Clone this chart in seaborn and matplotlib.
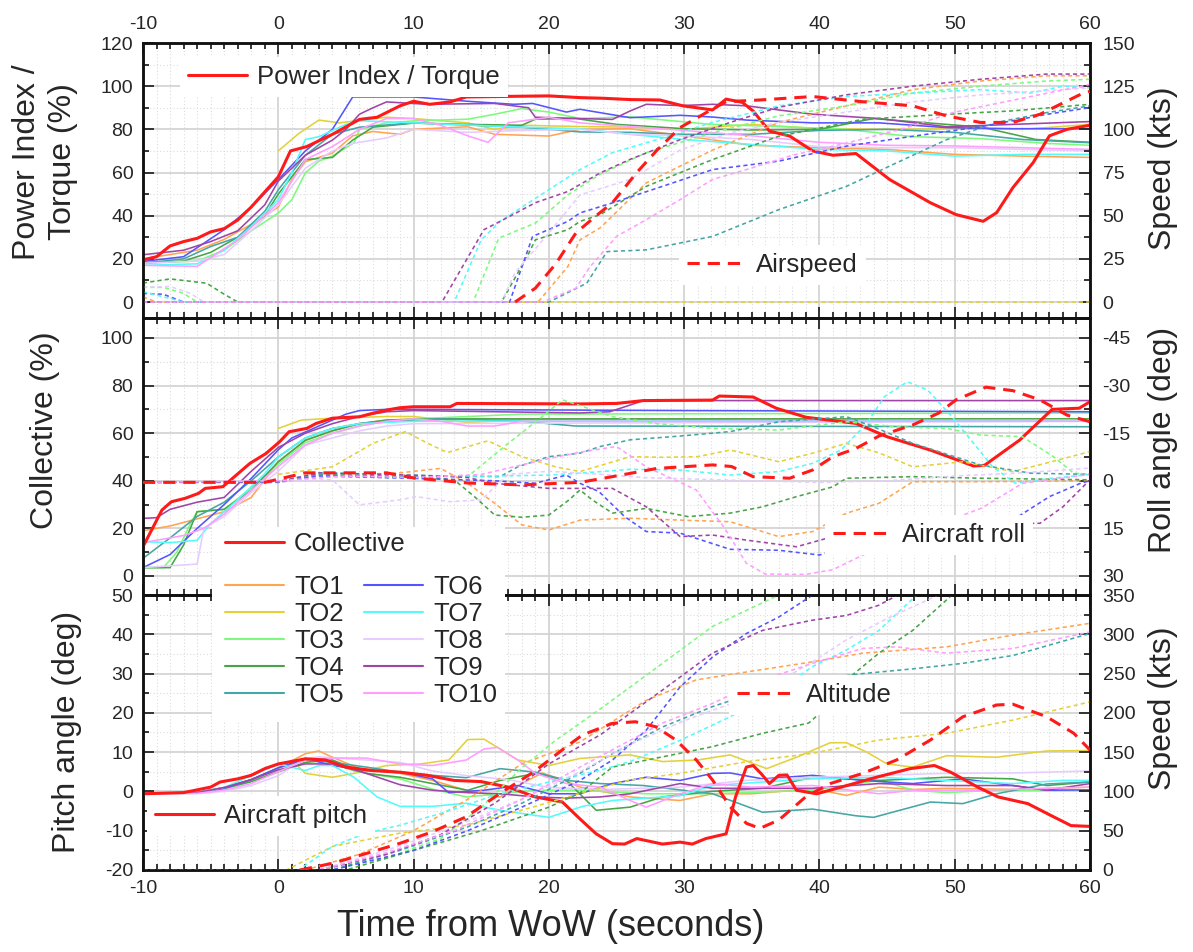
import numpy as np
import pandas as pd
import seaborn as sns
import matplotlib
matplotlib.use("Agg")
import matplotlib.pyplot as plt
from matplotlib.lines import Line2D
from matplotlib.patches import Rectangle
from matplotlib.ticker import MultipleLocator

# ---------------- DATA ----------------
TO_NAMES = ["TO1", "TO2", "TO3", "TO4", "TO5", "TO6", "TO7", "TO8", "TO9", "TO10"]
TO_COLORS = ["#FFA552", "#E3D13A", "#7DFA7D", "#47A547", "#45A6A6",
             "#5555FF", "#55FAFA", "#E6CCFF", "#A044A8", "#FF9EFF"]

# Panel 1: Power index / torque (%)
TQ_RED = [(-10,19.5),(-9,21),(-8,26),(-7,28),(-6,29.5),(-5,32.5),(-4,34),(-3,38),(-2,44),(-1,51),(0,58),
          (0.9,70),(2.1,72),(4,77.7),(6,84.6),(7.3,85.6),(9,90.9),(10,93),(11.2,91.6),(12.7,92.7),(13.9,95),
          (17.4,95.3),(20,95.5),(22.3,94.7),(24,94.4),(26,93.8),(28.2,93.6),(29.9,90.9),(32.1,89),(33.1,94),
          (34.3,92.5),(35.1,88.5),(36.3,79.2),(37.8,76.9),(39.5,70),(41,68),(42.7,68.8),(45.2,56.7),(48.2,46),
          (50.1,40.5),(52.1,37.4),(53.1,41.4),(54.3,53),(55.8,64.6),(57,77),(58.3,80),(60,81.9)]
TQ_TO1 = [(-10,20),(-8,22),(-6,24),(-4,29),(-2,36),(0,44),(1,56.7),(2,65),(4,69),(5.5,77),(7,79),(9,77.7),(10,80),
          (14,81.2),(16,77.7),(20,76.9),(22.3,80),(26,80.3),(30,77),(35,72.6),(40,71.5),(45,70.7),(50,68.4),(55,67.6),(60,67)]
TQ_TO2 = [(0,70),(1.5,78),(3,84.3),(4.5,83),(8,85.6),(10,85),(14,83),(16,80),(18,81.9),(22.3,81.3),(26,81),(30,80),
          (35,82.3),(40,80.3),(45,80),(50,80.3),(55,80),(60,82.3)]
TQ_TO3 = [(-10,18),(-6,19),(-4,24),(-2,33),(0,41.2),(1,47.4),(2,59.8),(3,65.3),(4,67.6),(5.6,73.8),(6,80),(8,83),(10,83.9),
          (14,84.7),(16,87),(18,89.6),(20,88),(22.3,85),(26,85.8),(32,82.3),(37,81.3),(42,80),(46.9,76.6),(51.9,75.7),(56.8,73.5),(60,72.6)]
TQ_TO4 = [(-10,18),(-7,19),(-5,23),(-3,30),(-1,40),(0,50),(2,66),(4,67),(5.5,75),(7,81),(10,82.9),(14,82.3),(18,81.9),
          (19,84.7),(22,85),(25,82.3),(30,80.3),(35,79.7),(40,80),(44,85),(48,83),(52,81),(56,75.3),(60,74)]
TQ_TO5 = [(-10,18),(-7,20),(-5,25.7),(-3,30),(-1,42),(0,52),(2,68),(4,77.7),(6,81),(8,82),(10,83),(14,82),(18,81),
          (22.3,78.8),(26,78.6),(30,77.7),(35,77.7),(40,79.5),(45,80),(50,78.6),(55,75.3),(60,73.8)]
TQ_TO6 = [(-10,18.8),(-7,21),(-4,33.5),(-2,44),(0,56.7),(2,70),(4,80),(5.5,95),(7.7,95),(10,95),(14,93),(17.4,91.6),
          (18.8,92),(21.3,88),(22.3,89.3),(26,85.4),(29.7,86.5),(32.1,85.7),(34.6,84.3),(39.5,83),(44.4,83),(49.4,80.8),(54.3,80.3),(60,80.3)]
TQ_TO7 = [(-10,17),(-6,17.7),(-4,24),(-2,35),(0,47.4),(1,60),(2,75.3),(3,76.6),(5,82.3),(6,84),(10,83),(14,82),(18,81),
          (22.3,80.3),(26,77.7),(30,75.3),(35,73),(40,70.7),(45,70),(50,67.6),(55,68.4),(60,68.4)]
TQ_TO8 = [(-10,18),(-6,19),(-4,22),(-2,33),(0,45),(2,62),(4,70),(5.5,73.5),(8,76),(10,80),(14,78.6),(18,79.5),(22.3,80),
          (26,77.7),(30,77),(35,75.3),(40,72),(45,71.5),(50,71.5),(55,70.7),(60,70)]
TQ_TO9 = [(-10,21.9),(-7,24),(-5,28),(-3,33),(-1,45),(0,56),(2,68),(4,75),(5,80),(6,87),(7,90),(8,92.7),(11,91.6),(16,92),
          (18.5,90),(19,85.6),(22.3,85),(24.7,84.6),(26,88.5),(27.2,91.6),(29.7,91),(32.1,91.6),(34.6,90.9),(39.5,87),
          (44.4,85),(49.4,81.2),(54.3,82.3),(60,83.6)]
TQ_TO10 = [(-10,17),(-6,16.5),(-3,28.8),(0,46),(2,66),(4,72),(6,80),(8,85),(10,85),(12,81.9),(14,77),(15.5,74),(17,83),
           (20,85.6),(22.3,83),(26,81.3),(30,79.5),(35,77),(40,74),(45,72.6),(50,72.3),(55,71.5),(60,70.7)]

# Panel 1: Airspeed (kts)
AS_RED = [(17.5,0),(19,8),(20.5,22),(22,40),(23.5,50),(24.7,57.5),(26.5,75),(28,88),(29.7,101),(31.7,110),
          (33.1,116),(35.6,117),(39.5,119),(43.2,116),(46.9,113.6),(49.4,107.8),(51.9,104),(54.3,104),(56.3,108.7),
          (57.8,114.5),(59.5,121),(60,122)]
AS_TO1 = [(-10,3),(-9,0),(19.2,0),(21.4,20.5),(22.3,36),(23.8,43),(27.2,69),(32.1,88),(37,104),(42,113.6),(46.9,123),
          (51.9,128),(56.8,131),(60,131)]
AS_TO2 = [(0,0),(60,0)]
AS_TO3 = [(-10,8.5),(-8.5,8.5),(-7,5),(-6,0),(14.4,0),(16.3,37),(19,45.7),(21.4,62),(23.8,74),(27.2,86.5),(32.1,98),
          (37,107.8),(42,113.6),(46.9,121),(51.9,125),(56.8,128),(60,129)]
AS_TO4 = [(-10,11),(-8,13.4),(-5.3,10.9),(-4.1,5),(-3,0),(16.5,0),(18.5,28),(19,36),(21.4,41.9),(22.3,46.7),(23.8,50.6),
          (27.2,67),(32.1,82.5),(37,96),(43.2,105.8),(49.4,108.7),(54.3,110.7),(60,114.5)]
AS_TO5 = [(-10,0),(20,0),(22.8,10.9),(24.3,29.2),(27.2,30.2),(32.1,38),(37,53.5),(42,67),(45.7,80.6),(49.4,94),
          (53.1,104),(56.8,109.7),(60,113.6)]
AS_TO6 = [(-10,5),(-8.5,4.5),(-7,0),(17.1,0),(18.8,38),(21.4,46.7),(22.3,51.6),(24.7,57.4),(28.4,67),(32.1,76.7),
          (37,81.6),(42,90.3),(46.9,96),(51.9,101.5),(56.8,108.7),(60,112.6)]
AS_TO7 = [(-10,6),(-7,0),(13,0),(15,36),(16.4,46.7),(19,60),(22.3,76.7),(24.7,86.5),(28.4,95),(32.1,104),(37,113.6),
          (42,119),(46.9,121),(51.9,123),(55.6,121),(58,125),(60,124)]
AS_TO8 = [(-10,8.5),(-8,9),(-6.5,5),(-5.5,0),(16.5,0),(17.5,17),(20,40),(22.3,62),(26,71),(29.7,88),(33.4,98),(37,104),
          (42,110),(47,116),(52,120),(56,122),(60,124)]
AS_TO9 = [(-10,0),(12.1,0),(15.2,41.9),(16.4,46.7),(19,57.5),(21.4,64),(23.8,74.8),(26,82.6),(29.7,94),(33.4,104),
          (37,112.8),(42,120),(46.9,125),(51.9,129),(56.8,132),(60,132)]
AS_TO10 = [(-10,0),(19.5,0),(22,8),(23,20),(25,38),(27.2,47.7),(29.7,59.3),(32.1,71),(34.6,76.7),(38,85),(42,92),
           (46,100),(50,110),(55,118),(60,126)]

# Panel 2: Collective (%)
COL_RED = [(-10,12.3),(-8.6,27.7),(-7.9,31.2),(-6.9,32.6),(-5.9,34.7),(-5.4,36.8),(-4.1,37.5),(-3.1,42.4),(-2.1,47.3),
           (-0.9,51.5),(0.1,56.4),(0.8,60.6),(2.1,62),(2.8,64.1),(4,66.3),(6,66.9),(7,68.4),(8,69.7),(9,70.7),(10,71.1),
           (12.7,71.1),(13.2,72.5),(22.3,72.3),(25,72.5),(27,73.7),(32.1,73.9),(32.6,75.6),(35.1,75.2),(36.8,70.5),
           (39,66.7),(42.7,64.1),(45,58.5),(48.2,52.9),(51.4,46.2),(52.2,46.5),(54.8,57.1),(57.2,70),(59.2,70.5),(60,73.2)]
COL_TO1 = [(-10,19),(-8,21),(-6,24),(-4,27),(-2,33),(0,48),(2,57),(4,61),(6,64),(8,65.5),(10,66),(20,66),(60,66)]
COL_TO2 = [(0,62),(1.7,65.5),(4,66.3),(8,67),(10,67),(14,64.5),(18,65.5),(22,66),(60,66)]
COL_TO3 = [(-10,3.5),(-8.5,3.5),(-7.5,10),(-6.5,22),(-6,27),(-4,28),(-2,37),(0,47),(2,56),(4,60),(6,63),(8,65),(10,66),
           (14,67),(18,68),(60,68.5)]
COL_TO4 = [(-10,3.5),(-8,3.5),(-7,13),(-6,27),(-4,28),(-2,36),(0,48),(2,57),(4,61),(6,64),(8,65.5),(12,66),(60,66)]
COL_TO5 = [(-10,7.4),(-8,16),(-6,25),(-4,31),(-2,40),(0,50),(2,58),(4,62),(6,64),(8,65),(12,66),(18,65),(22,63),(60,62.7)]
COL_TO6 = [(-10,3.5),(-8,9),(-6,20),(-4,30),(-2,41),(0,53),(1,58),(3,63),(5,68),(6,69.5),(8,70),(10,70),(30,69.5),(60,69)]
COL_TO7 = [(-10,14.4),(-8,14),(-6,15),(-5,22),(-3,32),(-1,43),(0,50),(2,58),(4,62),(6,64),(10,65),(60,65.5)]
COL_TO8 = [(-10,3.5),(-6,5),(-5.5,20),(-4,25),(-2,35),(0,44),(2,55),(4,58),(6,61),(8,63),(10,64),(60,65)]
COL_TO9 = [(-10,24.2),(-9,24.5),(-8,28),(-6,31),(-4,33),(-2,44),(0,54),(2,60),(4,64),(6,67),(8,69),(10,69.5),
           (22.3,68.5),(24.5,69),(27,73.7),(60,73.7)]
COL_TO10 = [(-10,14),(-7,17),(-5.5,20),(-4,26),(-2,36),(0,46),(2,55),(4,60),(6,63),(8,65),(10,66),(12,65),(14,63),
            (16,63),(18,65),(60,65)]

# Panel 2: Aircraft roll (deg)
ROLL_RED = [(-10,0.5),(-1,0.5),(2,-2.5),(8,-2.5),(10,-0.9),(14,0.7),(18,1.3),(22.3,0.5),(24.7,-1.3),(28,-3.9),(32.1,-5),
            (33.5,-4.5),(35.1,-1.3),(37.8,-0.8),(39.5,-3.4),(41,-7.6),(42.7,-10.2),(44.4,-14.1),(46.9,-17.6),(48.8,-21.3),
            (50.1,-25.5),(52.3,-29.5),(54.3,-28.4),(56.3,-25.5),(58.3,-20.7),(60,-18.6)]
ROLL_TO1 = [(-10,0.5),(0,0.3),(3,-2.5),(6,-2),(9,-2.5),(12,-3.9),(14,0.8),(16,7.1),(18,13.9),(20,15.5),(22.3,12.4),
            (26,11.8),(29.7,12.4),(33.4,12.9),(37,17.6),(39.5,16),(42,10.2),(44.4,7.1),(46.9,0.3),(52,0.3),(60,0)]
ROLL_TO2 = [(0,-2),(4,-4.4),(7,-11.8),(9.4,-15.5),(11,-11.9),(12.5,-8.9),(15.5,-12.6),(18,-7.6),(20.5,-4.4),(22.3,-2.9),
            (26,-7.6),(28.4,-7.4),(31,-7.6),(33.4,-9.7),(37,-6),(39.5,-8.7),(42,-11.8),(44.4,-8.8),(46.9,-4.4),(50.6,-6),
            (54.3,-2.9),(56.8,-5.6),(60,-9.2)]
ROLL_TO3 = [(-10,0.5),(0,0.3),(3,-2.5),(8,-2),(12,-1.5),(14,-1.3),(17,-11.8),(19.5,-20.2),(21,-25.5),(22.5,-23.4),
            (24.7,-20.2),(28,-18),(32.1,-16.5),(37,-16),(42,-18.6),(45.7,-17),(49.4,-16.5),(51.9,-14.4),(55,-13.9),
            (57.3,-7.6),(58.8,-2.4),(60,-2)]
ROLL_TO4 = [(-10,0.5),(0,0.3),(3,-2),(8,-1.5),(12,-0.8),(13,-0.3),(14.5,5),(16,10.8),(18,11.5),(20,10.8),(21.5,6),
            (22.3,2.9),(23.2,6),(24.7,10.2),(27.2,8.7),(30.3,11.3),(33.4,10.2),(35.8,8.2),(38.3,5),(41,1.9),(42,-0.8),
            (46.9,-1.3),(52,-0.8),(60,-0.3)]
ROLL_TO5 = [(-10,0.5),(0,0.3),(3,-2),(8,-1),(12,-1.5),(16.4,-1.3),(17.7,-4.4),(20,-7.6),(22.3,-8.7),(23.8,-10.8),
            (26,-12.9),(29.7,-14.1),(33.4,-15.5),(37,-18.6),(42,-20.2),(44,-17),(46.9,-11.8),(51.9,-5),(55.6,-2.4),(60,-2)]
ROLL_TO6 = [(-10,0.5),(0,0.5),(3,-1.5),(8,-1),(12,-0.5),(16,0),(19,0.8),(21.3,-1.8),(22.3,0.8),(23.7,3.4),(25.6,11.3),
            (27.2,16),(29.7,16.5),(33.4,21.6),(37,21.9),(40,23.4),(42,20.8),(44.4,18.7),(48,17),(52,14.5),(54.5,11.8),
            (57,5),(59.3,0.8),(60,0)]
ROLL_TO7 = [(-10,0.5),(0,0.3),(3,-2.5),(8,-2),(12,-1.5),(16,-1.5),(20,-1.8),(22.3,-2.4),(26,-3.6),(29.7,-3.4),(33.4,-1.8),
            (37,-2.9),(39.5,-5.5),(41.6,-9.7),(43.5,-18.1),(44.8,-26.5),(46.5,-31.2),(48,-28.6),(49.8,-20.2),(51.4,-11.8),
            (52.8,-4.4),(54.5,0.8),(57.2,-0.8),(60,-2)]
ROLL_TO8 = [(-10,0.5),(0,0),(4,-0.3),(6,7.6),(9,6),(10.2,5),(12.7,6.6),(15,6),(17,-2),(20,-3),(24,-2),(27,-1),(31,-0.5),
            (35,0),(40,0.5),(45,0),(50,-1.5),(55,-2.5),(60,-4)]
ROLL_TO9 = [(-10,0.5),(0,0.3),(3,-2.5),(8,-2),(12,-1.5),(14,-1),(16,0.8),(20,2.4),(22.3,2.4),(24.7,2.4),(27.2,8.2),
            (29.7,17.6),(32.1,17.1),(34.6,18.7),(38.3,20.8),(41,17.6),(44.4,11.8),(46.5,11.3),(50,12.5),(53,13.5),
            (56.3,13.4),(58,8.2),(60,-0.3)]
ROLL_TO10 = [(-10,0.5),(0,0),(5,-1.5),(10,-1),(15,-2),(20,-7),(22.3,-9),(25,-10.8),(27.2,-4.4),(30.9,2.9),(33,15),
             (34.6,26),(36,29.4),(39,29.5),(41,28),(44,21.8),(48,15),(52,8.6),(55,0.8),(60,-2)]

# Panel 3: Aircraft pitch (deg)
PITCH_RED = [(-10,-0.6),(-7,-0.3),(-5,1.1),(-4.3,2.4),(-3,3.2),(-2,4.1),(-1,5.8),(0,7),(2,8.3),(3.5,8),(5,6.2),(7,5.3),
             (9,4.9),(11,4.1),(13,2.8),(15,2.5),(17,1.1),(19,-1.4),(21,-2.7),(22.3,-7),(23.5,-10.8),(24.7,-13.3),
             (25.6,-13.4),(26.5,-12),(28.4,-13.4),(29.7,-12.9),(30.6,-13.4),(31.6,-12),(33.1,-10.8),(33.8,-1.4),
             (34.6,6.2),(35.1,6.6),(35.7,4.5),(36.3,2),(37,4.1),(37.6,4.2),(38.3,0.3),(39.8,-0.6),(41.2,0.7),(44.2,3.6),
             (46.7,5.8),(48.5,6.6),(49.7,4.9),(51.7,1.1),(53.2,-1.4),(55.4,-3.1),(57.1,-6.1),(58.6,-8.7),(60,-8.9)]
PITCH_TO1 = [(-10,-0.5),(-6,-0.3),(-4,1),(-2,3),(0,6),(2,9.6),(3,10.3),(4,8.7),(6,5.8),(9,4.6),(11.4,2.8),(13.9,0.3),
             (16.4,-1.4),(18,2),(19.5,4.7),(21,3),(22.3,1.1),(26,-1.4),(29.7,-2.3),(32.1,-0.6),(35,-0.6),(39.5,0.7),
             (42,-1),(44.4,1.1),(47,0.5),(49.4,0.8),(54.3,0.5),(60,1.1)]
PITCH_TO2 = [(1.4,6.6),(2,4.6),(4,3.6),(5.6,4.6),(8,6.6),(10.5,7),(12.6,8),(14,13.2),(15.2,13.3),(16.4,10.8),(17.7,8),
             (20,6.6),(22.3,8.4),(26,9.3),(28.4,7.6),(31,8),(33.4,9.3),(36.1,5.8),(38.3,8.7),(40.8,12.4),(42,12.4),
             (43.5,10),(45,7),(46.9,6.2),(49.4,9.1),(53.1,8.7),(56.8,10.3),(60,10.4)]
PITCH_TO3 = [(-10,-0.5),(-6,-0.5),(-4,0.5),(-2,2.5),(0,5),(1.4,6.6),(3,8.4),(5.6,5.2),(9,3.2),(11.4,0.6),(13.9,-1.4),
             (16.4,-0.6),(19,0.3),(22.3,0.3),(27.2,-0.6),(32,-0.6),(39.5,0.3),(44.4,2.8),(47,0.3),(49.4,-0.3),(53,0.3),(60,0.3)]
PITCH_TO4 = [(-10,-0.5),(-6,-0.3),(-4,0.8),(-2,2.5),(0,5),(2,7.4),(4,8),(6.5,4.6),(9,3.6),(11.4,2),(14,0.3),(16.4,2.8),
             (19,4.6),(21.3,2.8),(23.5,-4.8),(26,-4),(28.4,-1.4),(32,0),(35.8,0.8),(39.5,3.6),(44.4,2.8),(49.4,3.6),
             (54.3,3.2),(56.8,1.5),(60,2.4)]
PITCH_TO5 = [(-10,-0.5),(-6,-0.3),(-4,1),(-2,3),(0,6),(2,8),(4,7.4),(6.5,6.2),(9,4.9),(11.4,4.1),(13.9,3.5),(16.4,5.8),
             (19,4.9),(21.3,2.8),(23.8,2),(27,1.5),(32.1,-0.6),(35.8,-5.3),(39.5,-4.5),(42.7,-6.2),(44,-6.6),(48.2,-2.7),
             (50.6,-3.1),(53.1,-0.6),(56.8,1.9),(60,2.4)]
PITCH_TO6 = [(-10,-0.5),(-6,-0.3),(-4,0.8),(-2,3),(0,6),(2,8.4),(4,6.6),(6.5,5.3),(9,4.9),(11.4,3.2),(12.6,-0.3),
             (15.2,0.3),(17.7,1.5),(20,-0.6),(22.3,-0.6),(24.7,2),(27.2,3.6),(29.7,2.8),(32.1,4.6),(33.4,4.7),(35.8,3.2),
             (39.5,4.1),(43.2,2.8),(46.9,2),(50.6,3.2),(54.3,1.5),(56.8,0.3),(60,0.4)]
PITCH_TO7 = [(-10,-0.5),(-6,-0.3),(-4,1),(-2,4),(0,7),(2,5.3),(3,6.6),(4,6.6),(5.6,3.6),(7.3,-1.4),(9,-3.8),(11.4,-3.8),
             (13.9,-3),(16.4,-4.8),(19,-6.1),(20,-6.6),(22.5,-3.8),(24.7,-2.3),(29.7,-1.1),(32.1,1.5),(35.8,2.4),
             (39.5,3.2),(44.4,3.6),(49.4,2.8),(54.3,2),(58,2.8),(60,2.8)]
PITCH_TO8 = [(-10,-0.5),(-6,-0.5),(-4,0),(-2,1.5),(0,4),(2,8.4),(3,8.8),(6.5,8),(9,7.4),(11.4,5.2),(14,4),(17,3),(20,1),
             (24,0.5),(29.7,1.1),(34.6,2.8),(39.5,3.6),(44.4,4.1),(49.4,4.6),(54.3,4.7),(60,5.2)]
PITCH_TO9 = [(-10,-0.5),(-6,-0.3),(-4,1),(-2,3),(0,5.5),(2,7),(4,7),(6.5,4.6),(9,1.7),(11.4,0.3),(13.9,-0.3),(16.4,-0.6),
             (19,-1.4),(21.3,-1.7),(23.8,-1.4),(26,-0.6),(29.7,2),(32.1,0.8),(39.5,0.8),(44.4,2),(49.4,1.5),(54.3,1.5),
             (56.8,0.3),(60,2)]
PITCH_TO10 = [(-10,-0.5),(-6,-0.5),(-4,0.3),(-2,2),(0,5),(2,8),(4,8.5),(6.5,8.5),(9,7),(11.4,6.6),(13.9,8),(15.2,10.8),
              (16.2,11.2),(17.7,8),(19,4.6),(21.3,2),(23.8,1.1),(26,-2.3),(27.2,-4),(29.7,-0.6),(32.1,2),(35,1.1),
              (39.5,1.5),(44.4,-0.6),(47,0.3),(52,0.3),(60,1.1)]

# Panel 3: Altitude (right axis)
ALT_RED = [(1.6,0),(4,8.5),(6.5,21),(9,34),(11.4,48.7),(13.9,67.8),(16.4,97.6),(18.9,125),(21.3,157),(22.5,172),
           (24.7,186.6),(26.4,188.7),(27.9,182.3),(29.4,165.4),(30.9,140),(32.1,114.5),(33.4,80.5),(34.6,59.4),(35.6,53),
           (37,63.6),(39,93.3),(40.8,110),(43.2,123),(45.7,140),(48.2,165.4),(50.6,195),(53.1,210),(54.3,211),(56.8,195),
           (58.8,174),(60,152.7)]
ALT_TO1 = [(-10,0),(2,0),(6,20),(10,50),(14,90),(18,135),(22.3,163),(24.7,189),(27.2,216),(30.9,242),(34.6,252),
           (39.5,265),(43.2,276),(49.4,284),(54.3,299),(60,314)]
ALT_TO2 = [(0,0),(0.6,0),(4,30),(9,47),(13.9,57),(18.9,80.5),(22.3,97.6),(26,114.5),(29.7,123),(34.6,137.8),(39.5,148.5),
           (44.4,165.4),(49.4,174),(54.3,190.8),(60,214)]
ALT_TO3 = [(-10,0),(3,0),(8,15),(12,40),(15,80),(18,130),(20.5,165),(23.8,205),(28.4,263),(32.1,310),(37,350),(40,380)]
ALT_TO4 = [(-10,0),(5,0),(10,25),(15,50),(20,80),(22.3,98),(24.7,131),(28.4,144),(32.1,157),(35.8,174),(39.2,187),(40,199),
           (42,242),(44.4,276),(46.9,305),(49.8,350),(51,365)]
ALT_TO5 = [(-10,0),(4,0),(9,25),(14,55),(18,85),(22.3,123),(24.7,148),(28.4,182),(32.1,208),(35.8,229),(39.5,242),
           (43.2,250),(46.9,256),(50.6,263),(54.3,273),(60,301)]
ALT_TO6 = [(-10,0),(4,0),(10,25),(14,50),(18,80),(22.3,114),(24.7,140),(27.2,178),(29.7,233),(32.1,271),(34.6,301),
           (37,322),(39.5,350),(42,380)]
ALT_TO7 = [(-10,0),(1.5,0),(4,30),(6.5,47),(9,57),(12,72),(16,95),(20,112),(23.8,127),(26,138),(29.7,165),(33.4,195),
           (37,229),(39.5,259),(42,280),(44.4,305),(47.2,350),(49,370)]
ALT_TO8 = [(-10,0),(3,0),(8,25),(13,55),(18,90),(22.3,125),(26,160),(30,190),(34,215),(37,240),(39.5,265),(42,293),
           (45,320),(48.8,350),(50,360)]
ALT_TO9 = [(-10,0),(3,0),(8,20),(12,45),(16,85),(20,135),(23.8,172),(28.4,229),(32.1,276),(35.8,305),(39.5,318),(42,324),
           (44.4,337),(46,352)]
ALT_TO10 = [(-10,0),(3,0),(8,22),(13,50),(18,90),(22.3,131),(28.4,187),(32.1,212),(35.8,242),(39.5,263),(43.2,282),
            (45.7,284),(49.4,276),(54.3,282),(60,303)]

TQ_SERIES = [TQ_TO1, TQ_TO2, TQ_TO3, TQ_TO4, TQ_TO5, TQ_TO6, TQ_TO7, TQ_TO8, TQ_TO9, TQ_TO10]
AS_SERIES = [AS_TO1, AS_TO2, AS_TO3, AS_TO4, AS_TO5, AS_TO6, AS_TO7, AS_TO8, AS_TO9, AS_TO10]
COL_SERIES = [COL_TO1, COL_TO2, COL_TO3, COL_TO4, COL_TO5, COL_TO6, COL_TO7, COL_TO8, COL_TO9, COL_TO10]
ROLL_SERIES = [ROLL_TO1, ROLL_TO2, ROLL_TO3, ROLL_TO4, ROLL_TO5, ROLL_TO6, ROLL_TO7, ROLL_TO8, ROLL_TO9, ROLL_TO10]
PITCH_SERIES = [PITCH_TO1, PITCH_TO2, PITCH_TO3, PITCH_TO4, PITCH_TO5, PITCH_TO6, PITCH_TO7, PITCH_TO8, PITCH_TO9, PITCH_TO10]
ALT_SERIES = [ALT_TO1, ALT_TO2, ALT_TO3, ALT_TO4, ALT_TO5, ALT_TO6, ALT_TO7, ALT_TO8, ALT_TO9, ALT_TO10]

# ---------------- STYLE ----------------
sns.set_style("ticks")
plt.rcParams["font.family"] = ["Liberation Sans", "DejaVu Sans"]
plt.rcParams["axes.linewidth"] = 1.8
plt.rcParams["axes.unicode_minus"] = False

RED = "#FF1A1A"
TO_LW = 1.15
RED_LW = 2.2
TO_DASH = (0, (2.6, 2.0))
RED_DASH = (0, (4.0, 2.6))
TICK_FS = 14
LABEL_FS = 23
XLABEL_FS = 26
LEG_FS = 18.5

W_PX, H_PX = 1193, 952
fig = plt.figure(figsize=(W_PX / 100, H_PX / 100), dpi=100)


def fx(px):
    return px / W_PX


def fy(py):
    return 1 - py / H_PX


def make_axes(top_px, bot_px):
    return fig.add_axes([fx(143), fy(bot_px), fx(1090) - fx(143), (bot_px - top_px) / H_PX])


ax1 = make_axes(43, 318)
ax2 = make_axes(318, 595)
ax3 = make_axes(595, 870)


def draw(ax, pts, color, lw, ls="-", z=2):
    df = pd.DataFrame(pts, columns=["t", "v"])
    sns.lineplot(data=df, x="t", y="v", ax=ax, color=color, linewidth=lw, linestyle=ls,
                 sort=False, estimator=None, legend=False, zorder=z)


def style_axes(ax, ylim, major, minor):
    ax.set_xlim(-10, 60)
    ax.set_ylim(*ylim)
    ax.xaxis.set_major_locator(MultipleLocator(10))
    ax.xaxis.set_minor_locator(MultipleLocator(1))
    ax.yaxis.set_major_locator(MultipleLocator(major))
    ax.yaxis.set_minor_locator(MultipleLocator(minor))
    ax.set_axisbelow(True)
    ax.grid(True, which="major", color="#d4d4d4", lw=1.3)
    ax.grid(True, which="minor", color="#dcdcdc", lw=0.8, ls=(0, (1, 2)))
    ax.tick_params(which="both", direction="in", top=True, bottom=True, left=True, right=False,
                   labelsize=TICK_FS, width=1.3, pad=7)
    ax.tick_params(which="major", length=8)
    ax.tick_params(which="minor", length=4)
    ax.set_xlabel("")
    ax.set_ylabel("")
    for s in ax.spines.values():
        s.set_linewidth(1.8)
        s.set_color("#111111")


def style_twin(tw, ylim, ticks, minor):
    tw.set_ylim(*ylim)
    tw.set_yticks(ticks)
    tw.yaxis.set_minor_locator(MultipleLocator(minor))
    tw.tick_params(axis="y", which="both", direction="in", right=True, left=False,
                   labelsize=TICK_FS, width=1.3, pad=9)
    tw.tick_params(axis="y", which="major", length=8)
    tw.tick_params(axis="y", which="minor", length=4)
    tw.set_ylabel("")
    tw.set_xlabel("")
    for s in tw.spines.values():
        s.set_linewidth(1.8)
        s.set_color("#111111")


# ---------------- PANEL 1 ----------------
tw1 = ax1.twinx()
for pts, c in zip(TQ_SERIES, TO_COLORS):
    draw(ax1, pts, c, TO_LW)
draw(ax1, TQ_RED, RED, RED_LW, z=4)
for pts, c in zip(AS_SERIES, TO_COLORS):
    draw(tw1, pts, c, TO_LW, TO_DASH)
draw(tw1, AS_RED, RED, RED_LW, RED_DASH, z=4)
style_axes(ax1, (-7.4, 120), 20, 10)
ax1.tick_params(labeltop=True, labelbottom=False)
style_twin(tw1, (-9.25, 150), [0, 25, 50, 75, 100, 125, 150], 12.5)
tw1.set_xlim(-10, 60)

# ---------------- PANEL 2 ----------------
tw2 = ax2.twinx()
for pts, c in zip(COL_SERIES, TO_COLORS):
    draw(ax2, pts, c, TO_LW)
draw(ax2, COL_RED, RED, RED_LW, z=4)
for pts, c in zip(ROLL_SERIES, TO_COLORS):
    draw(tw2, pts, c, TO_LW, TO_DASH)
draw(tw2, ROLL_RED, RED, RED_LW, RED_DASH, z=4)
style_axes(ax2, (-8.0, 108.4), 20, 10)
ax2.set_yticks([0, 20, 40, 60, 80, 100])
ax2.tick_params(labeltop=False, labelbottom=False)
style_twin(tw2, (36.0, -51.3), [-45, -30, -15, 0, 15, 30], 7.5)
tw2.set_xlim(-10, 60)

# ---------------- PANEL 3 ----------------
tw3 = ax3.twinx()
for pts, c in zip(PITCH_SERIES, TO_COLORS):
    draw(ax3, pts, c, TO_LW)
draw(ax3, PITCH_RED, RED, RED_LW, z=4)
for pts, c in zip(ALT_SERIES, TO_COLORS):
    draw(tw3, pts, c, TO_LW, TO_DASH)
draw(tw3, ALT_RED, RED, RED_LW, RED_DASH, z=4)
style_axes(ax3, (-20, 50), 10, 5)
ax3.tick_params(labeltop=False, labelbottom=True)
style_twin(tw3, (0, 350), [0, 50, 100, 150, 200, 250, 300, 350], 25)
tw3.set_xlim(-10, 60)

# ---------------- LABELS ----------------
fig.text(fx(45), fy(162), "Power Index /\nTorque (%)", rotation=90, ha="center", va="center",
         fontsize=LABEL_FS, linespacing=1.25, multialignment="center")
fig.text(fx(45), fy(430), "Collective (%)", rotation=90, ha="center", va="center", fontsize=LABEL_FS)
fig.text(fx(67), fy(732), "Pitch angle (deg)", rotation=90, ha="center", va="center", fontsize=LABEL_FS)
fig.text(fx(1163), fy(168), "Speed (kts)", rotation=90, ha="center", va="center", fontsize=LABEL_FS)
fig.text(fx(1163), fy(440), "Roll angle (deg)", rotation=90, ha="center", va="center", fontsize=LABEL_FS)
fig.text(fx(1163), fy(708), "Speed (kts)", rotation=90, ha="center", va="center", fontsize=LABEL_FS)
fig.text(fx(551), fy(927), "Time from WoW (seconds)", ha="center", va="center", fontsize=XLABEL_FS)

# ---------------- LEGENDS ----------------
leg_kw = dict(loc="center left", borderpad=0.3, handlelength=2.3, handletextpad=0.4, fontsize=LEG_FS,
              frameon=True, facecolor="white", edgecolor="none", framealpha=1, fancybox=False,
              borderaxespad=0)


def single_legend(label, ls, xpx, ypx):
    h = Line2D([], [], color=RED, lw=RED_LW, linestyle=ls)
    lg = fig.legend([h], [label], bbox_to_anchor=(fx(xpx), fy(ypx)), **leg_kw)
    return lg


single_legend("Power Index / Torque", "-", 180, 77)
single_legend("Airspeed", RED_DASH, 679, 265)
single_legend("Aircraft roll", RED_DASH, 825, 535)
single_legend("Altitude", RED_DASH, 729, 695)
single_legend("Aircraft pitch", "-", 147, 816)

# white box behind the series legend
fig.add_artist(Rectangle((fx(212), fy(722)), fx(505) - fx(212), (722 - 527) / H_PX,
                         transform=fig.transFigure, facecolor="white", edgecolor="none", zorder=3))
kw2 = dict(leg_kw)
kw2["frameon"] = False
fig.legend([Line2D([], [], color=RED, lw=RED_LW)], ["Collective"],
           bbox_to_anchor=(fx(217), fy(544)), **kw2)
to_handles = [Line2D([], [], color=c, lw=1.5) for c in TO_COLORS]
fig.legend(to_handles, TO_NAMES, ncol=2, columnspacing=0.8, labelspacing=0.12,
           bbox_to_anchor=(fx(217), fy(641)), **kw2)

fig.savefig("out.png", dpi=100)
